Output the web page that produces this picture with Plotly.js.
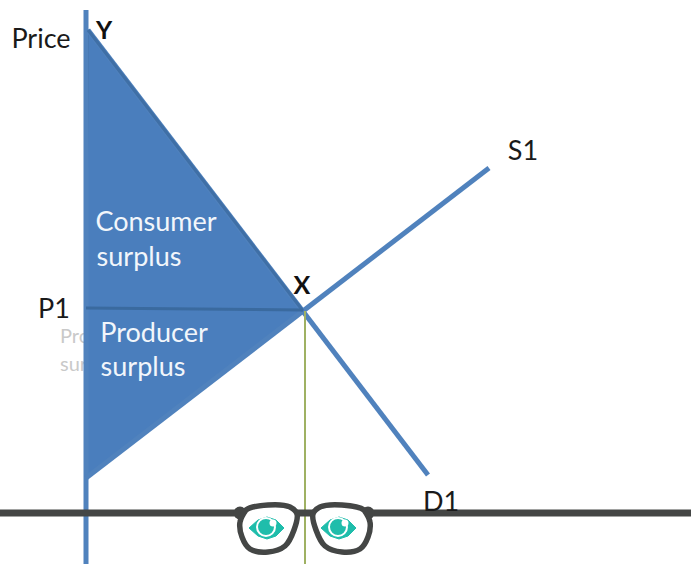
<!DOCTYPE html>
<html><head><meta charset="utf-8">
<script src="https://cdn.plot.ly/plotly-3.0.1.min.js"></script>
<style>html,body{margin:0;padding:0;background:#fff}#c{width:691px;height:564px}</style>
</head><body><div id="c"></div>
<script>
const BLUE='#5082bd', FILL='#4a7ebd', DARK='#3a6a9f', EDGE='#3f6fa6', FRAME='#444645', TEAL='#1fbdab', FONT='Lato, "Open Sans", sans-serif';
const surplusX=[88,303,86,86,88], surplusY=[30,311,478,308,30];
const priceAxisX=[86,86], priceAxisY=[10,564];
const supplyX=[86,489], supplyY=[478,168];
const demandX=[88,428], demandY=[30,475];
const upperDemandX=[88,303], upperDemandY=[30,311];
const p1LineX=[86,303], p1LineY=[308,310];
const qLineX=[305,305], qLineY=[311,564];
const groundX=[0,691], groundY=[513,513];
const lensLX=[240,246,268,290,297,294,285,268,250,242,240,246], lensLY=[522,510,505,507,514,530,546,552,549,537,522,510];
const lensRX=[370,364,342,320,313,316,325,342,360,368,370,364], lensRY=[522,510,505,507,514,530,546,552,549,537,522,510];
const hingeX=[240,368], hingeY=[513,513];
const eyeLX=[249,258,267,276,284,276,267,258,249], eyeLY=[528,520,517,520,528,536,539,536,528];
const eyeRX=[321,330,339,348,356,348,339,330,321], eyeRY=[528,520,517,520,528,536,539,536,528];
const irisX=[266,338], irisY=[527,527];
const glintX=[273,345], glintY=[523,523];
const darkLabels=['Price','P1','S1','D1'], darkX=[41,54,523,441], darkY=[41,311,153,504];
const boldLabels=['Y','X'], boldX=[104,302], boldY=[33,288];
const whiteLabels=['Consumer','surplus','Producer','surplus'], whiteX=[156,139,154,143], whiteY=[224,259,335,369];
const ghostLabels=['Pro','sur'], ghostX=[60,60], ghostY=[338,366];

const line=(x,y,color,width)=>({x,y,mode:'lines',line:{color,width},hoverinfo:'skip'});
const poly=(x,y,fill,lc,lw,smooth)=>({x,y,mode:'lines',fill:'toself',fillcolor:fill,line:{color:lc,width:lw,shape:smooth?'spline':'linear',smoothing:1},hoverinfo:'skip'});
const text=(x,y,t,size,color,pos,weight)=>({x,y,text:t,mode:'text',textposition:pos||'middle center',textfont:{family:FONT,size,color,weight:weight||400},hoverinfo:'skip'});

const data=[
 text(ghostX,ghostY,ghostLabels,20,'#c9c9c9','middle right'),
 poly(surplusX,surplusY,FILL,EDGE,2,false),
 line(priceAxisX,priceAxisY,BLUE,5),
 line(supplyX,supplyY,BLUE,5),
 line(demandX,demandY,BLUE,5),
 line(upperDemandX,upperDemandY,EDGE,3),
 line(p1LineX,p1LineY,DARK,3),
 line(qLineX,qLineY,'#9fb163',2),
 line(groundX,groundY,FRAME,7),
 {x:hingeX,y:hingeY,mode:'markers',marker:{size:13,color:FRAME},hoverinfo:'skip'},
 poly(lensLX,lensLY,'#ffffff',FRAME,5.5,true),
 poly(lensRX,lensRY,'#ffffff',FRAME,5.5,true),
 poly(eyeLX,eyeLY,TEAL,TEAL,1,false),
 poly(eyeRX,eyeRY,TEAL,TEAL,1,false),
 {x:irisX,y:irisY,mode:'markers',marker:{size:18,color:TEAL,line:{color:'#ffffff',width:2}},hoverinfo:'skip'},
 {x:glintX,y:glintY,mode:'markers',marker:{size:7,color:'#ffffff'},hoverinfo:'skip'},
 text(darkX,darkY,darkLabels,27,'#1a1a1a'),
 text(boldX,boldY,boldLabels,25,'#111111','middle center',700),
 text(whiteX,whiteY,whiteLabels,27,'#f2f6fb')
];

Plotly.newPlot('c',data,{
 width:691,height:564,margin:{l:0,r:0,t:0,b:0},showlegend:false,
 paper_bgcolor:'#fff',plot_bgcolor:'#fff',
 xaxis:{range:[0,691],visible:false,fixedrange:true},
 yaxis:{range:[564,0],visible:false,fixedrange:true}
},{displayModeBar:false,staticPlot:true});
</script></body></html>
